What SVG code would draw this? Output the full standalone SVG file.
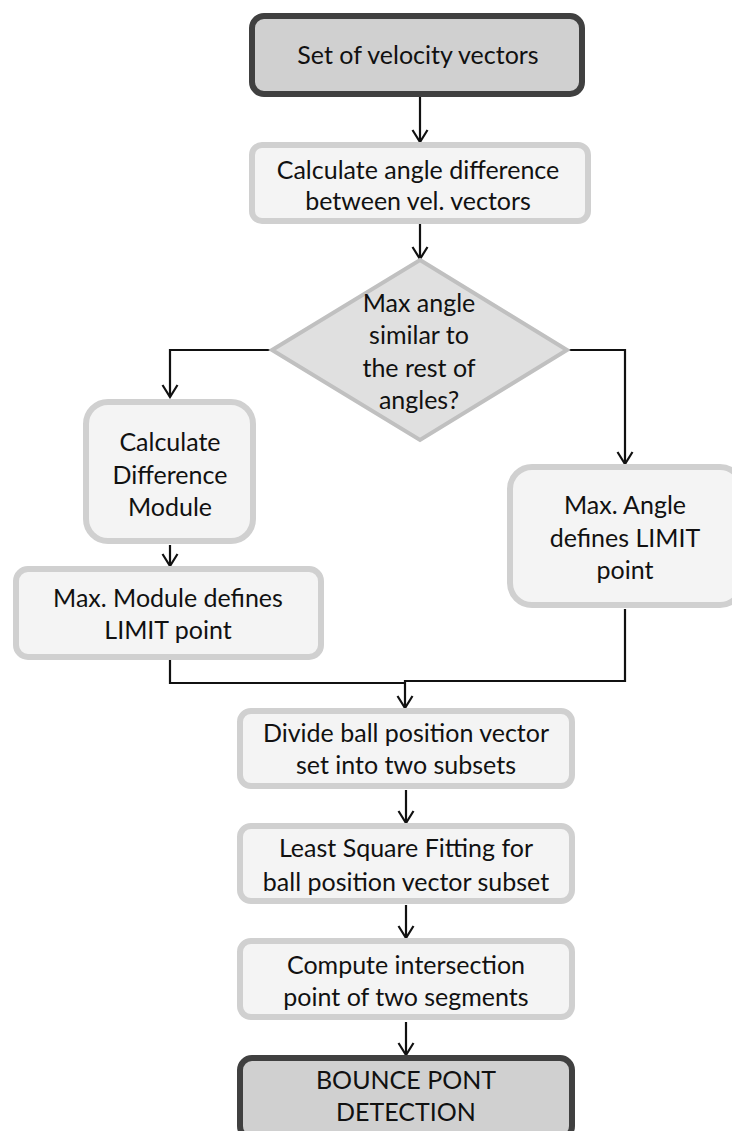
<svg xmlns="http://www.w3.org/2000/svg" width="732" height="1131" viewBox="0 0 732 1131">
<style>
.term{fill:#d0d0d0;stroke:#404040;stroke-width:6}
.proc{fill:#f4f4f4;stroke:#d0d0d0;stroke-width:6}
.dec{fill:#e0e0e0;stroke:#c0c0c0;stroke-width:4}
text{font-family:Lato,"Open Sans","Liberation Sans",sans-serif;font-size:25px;fill:#111;text-anchor:middle}
.c{fill:none;stroke:#111;stroke-width:2.2}
</style>
<defs>
<marker id="a" markerWidth="16" markerHeight="18" refX="14" refY="9" orient="auto" markerUnits="userSpaceOnUse" viewBox="0 0 16 18">
<path d="M2,1.5 L14,9 L2,16.5" fill="none" stroke="#111" stroke-width="2.2"/>
</marker>
</defs>
<rect width="732" height="1131" fill="#fff"/>
<g id="connectors">
<line class="c" x1="420" y1="97" x2="420" y2="142" marker-end="url(#a)"/>
<line class="c" x1="420" y1="224" x2="420" y2="259" marker-end="url(#a)"/>
<polyline class="c" points="270,350 170,350 170,397" marker-end="url(#a)"/>
<polyline class="c" points="567,350 625,350 625,464" marker-end="url(#a)"/>
<line class="c" x1="170" y1="545" x2="170" y2="566" marker-end="url(#a)"/>
<polyline class="c" points="170,660 170,683 405,683"/>
<polyline class="c" points="625,609 625,681 405,681 405,708" marker-end="url(#a)"/>
<line class="c" x1="406" y1="790" x2="406" y2="823" marker-end="url(#a)"/>
<line class="c" x1="406" y1="905" x2="406" y2="938" marker-end="url(#a)"/>
<line class="c" x1="406" y1="1022" x2="406" y2="1055" marker-end="url(#a)"/>
</g>
<g id="start">
<rect class="term" x="252" y="16" width="330" height="78" rx="12"/>
<text x="418" y="64">Set of velocity vectors</text>
</g>
<g id="angle-diff">
<rect class="proc" x="252" y="145" width="336" height="76" rx="10"/>
<text x="418" y="179">Calculate angle difference</text>
<text x="418" y="210">between vel. vectors</text>
</g>
<g id="decision">
<polygon class="dec" points="420,260 567,350 420,440 272,350"/>
<text x="419" y="312">Max angle</text>
<text x="419" y="344">similar to</text>
<text x="419" y="377">the rest of</text>
<text x="419" y="409">angles?</text>
</g>
<g id="calc-diff">
<rect class="proc" x="86" y="402" width="167" height="139" rx="22"/>
<text x="170" y="451">Calculate</text>
<text x="170" y="484">Difference</text>
<text x="170" y="516">Module</text>
</g>
<g id="max-module">
<rect class="proc" x="16" y="569" width="305" height="88" rx="12"/>
<text x="168" y="607">Max. Module defines</text>
<text x="168" y="639">LIMIT point</text>
</g>
<g id="max-angle">
<rect class="proc" x="510" y="467" width="232" height="138" rx="22"/>
<text x="625" y="514">Max. Angle</text>
<text x="625" y="547">defines LIMIT</text>
<text x="625" y="579">point</text>
</g>
<g id="divide">
<rect class="proc" x="240" y="711" width="332" height="75" rx="11"/>
<text x="406" y="742">Divide ball position vector</text>
<text x="406" y="774">set into two subsets</text>
</g>
<g id="lsq">
<rect class="proc" x="240" y="826" width="332" height="75" rx="11"/>
<text x="406" y="857">Least Square Fitting for</text>
<text x="406" y="891">ball position vector subset</text>
</g>
<g id="intersect">
<rect class="proc" x="240" y="941" width="332" height="76" rx="11"/>
<text x="406" y="974">Compute intersection</text>
<text x="406" y="1006">point of two segments</text>
</g>
<g id="end">
<rect class="term" x="240" y="1058" width="332" height="80" rx="12"/>
<text x="406" y="1089">BOUNCE PONT</text>
<text x="406" y="1121">DETECTION</text>
</g>
</svg>
